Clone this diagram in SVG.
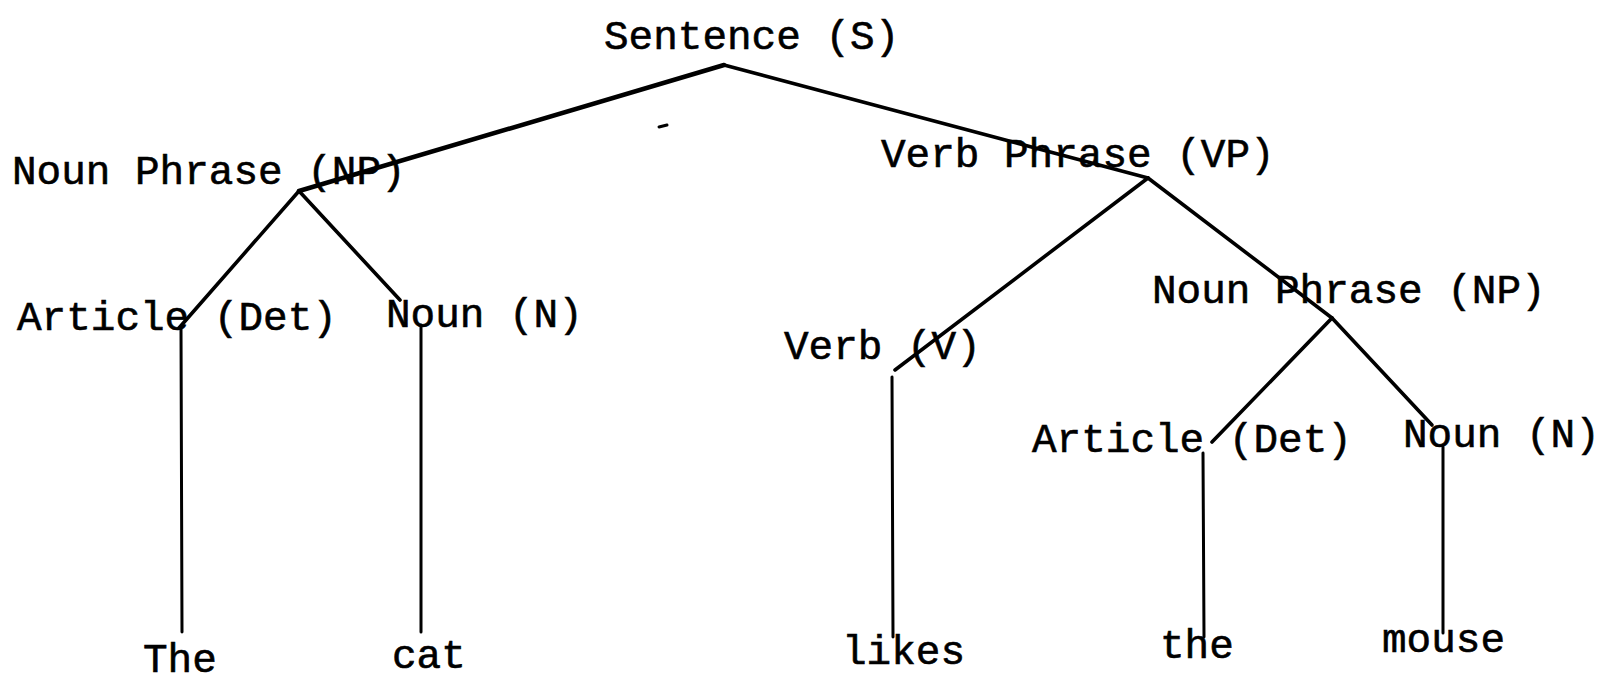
<svg xmlns="http://www.w3.org/2000/svg" width="1603" height="680" viewBox="0 0 1603 680">
  <style>
    .lbl { font-family: "Liberation Mono", "DejaVu Sans Mono", monospace; font-size: 41px; fill: #000; stroke: #000; stroke-width: 0.6; }
    .edge { stroke: #000; fill: none; stroke-linecap: round; }
    .thick { stroke-width: 4.6; }
    .mid { stroke-width: 3.6; }
    .thin { stroke-width: 3; }
  </style>
  <rect width="1603" height="680" fill="#fff"/>

  <!-- tree branches -->
  <g id="connectors">
    <line class="edge thick" x1="724" y1="65" x2="299" y2="191"/>
    <line class="edge mid" x1="724" y1="65" x2="1148" y2="178"/>
    <line class="edge mid" x1="299" y1="191" x2="179" y2="328"/>
    <line class="edge mid" x1="299" y1="191" x2="400" y2="300"/>
    <line class="edge thin" x1="181" y1="328" x2="182" y2="632"/>
    <line class="edge thin" x1="421" y1="325" x2="421" y2="632"/>
    <line class="edge mid" x1="1148" y1="178" x2="895" y2="370"/>
    <line class="edge mid" x1="1148" y1="178" x2="1332" y2="318"/>
    <line class="edge thin" x1="892" y1="377" x2="893" y2="637"/>
    <line class="edge mid" x1="1332" y1="318" x2="1212" y2="442"/>
    <line class="edge mid" x1="1332" y1="318" x2="1432" y2="425"/>
    <line class="edge thin" x1="1203" y1="453" x2="1204" y2="637"/>
    <line class="edge thin" x1="1443" y1="447" x2="1443" y2="633"/>
    <line class="edge thin" x1="659" y1="127" x2="667" y2="125"/>
  </g>

  <g id="node-s"><text class="lbl" x="604" y="49">Sentence (S)</text></g>
  <g id="node-np1"><text class="lbl" x="12" y="184">Noun Phrase (NP)</text></g>
  <g id="node-vp"><text class="lbl" x="881" y="167">Verb Phrase (VP)</text></g>
  <g id="node-det1"><text class="lbl" x="17" y="330">Article (Det)</text></g>
  <g id="node-n1"><text class="lbl" x="386" y="327">Noun (N)</text></g>
  <g id="node-v"><text class="lbl" x="784" y="359">Verb (V)</text></g>
  <g id="node-np2"><text class="lbl" x="1152" y="303">Noun Phrase (NP)</text></g>
  <g id="node-det2"><text class="lbl" x="1032" y="452">Article (Det)</text></g>
  <g id="node-n2"><text class="lbl" x="1403" y="447">Noun (N)</text></g>
  <g id="word-the1"><text class="lbl" x="143" y="672">The</text></g>
  <g id="word-cat"><text class="lbl" x="392" y="668">cat</text></g>
  <g id="word-likes"><text class="lbl" x="842" y="664">likes</text></g>
  <g id="word-the2"><text class="lbl" x="1160" y="658">the</text></g>
  <g id="word-mouse"><text class="lbl" x="1382" y="652">mouse</text></g>
</svg>
